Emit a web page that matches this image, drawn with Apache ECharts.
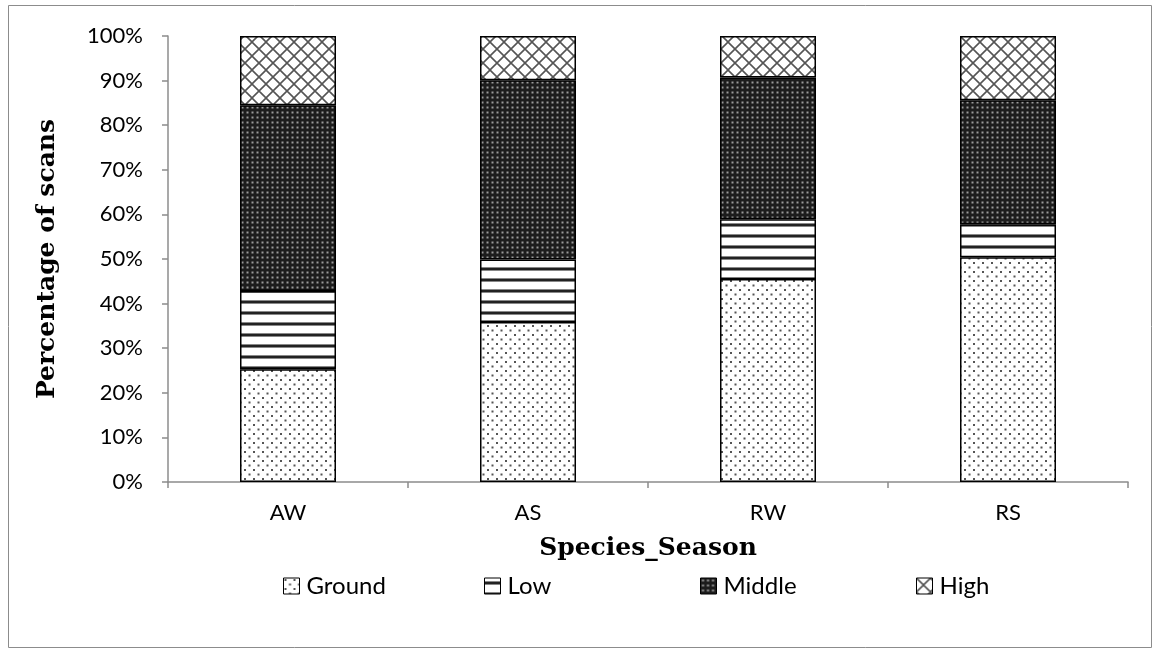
<!DOCTYPE html>
<html>
<head>
<meta charset="utf-8">
<script src="https://cdn.jsdelivr.net/npm/echarts@6/dist/echarts.min.js"></script>
<style>html,body{margin:0;padding:0;background:#fff}#c{width:1160px;height:649px}</style>
</head>
<body>
<div id="c"></div>
<script>
const categories = ['AW', 'AS', 'RW', 'RS'];
const ground = [25.3, 35.9, 45.5, 50.4];
const low = [17.5, 14.0, 13.4, 7.4];
const middle = [41.7, 40.2, 31.8, 27.8];
const high = [15.5, 9.9, 9.3, 14.4];
const seriesNames = ['Ground', 'Low', 'Middle', 'High'];

function makeTile(w, h, draw) {
  const c = document.createElement('canvas');
  c.width = w; c.height = h;
  const ctx = c.getContext('2d');
  draw(ctx, w, h);
  return { image: c, repeat: 'repeat' };
}
const groundPat = makeTile(9, 9, (ctx, w, h) => {
  ctx.fillStyle = '#fff'; ctx.fillRect(0, 0, w, h);
  ctx.fillStyle = '#555';
  ctx.fillRect(1, 1, 2, 2);
  ctx.fillRect(5.5, 5.5, 2, 2);
});
const lowPat = makeTile(10, 11, (ctx, w, h) => {
  ctx.fillStyle = '#fff'; ctx.fillRect(0, 0, w, h);
  ctx.fillStyle = '#222'; ctx.fillRect(0, 4, w, 2);
  ctx.fillStyle = '#888'; ctx.fillRect(0, 3, w, 1); ctx.fillRect(0, 6, w, 1);
});
const middlePat = makeTile(5, 5, (ctx, w, h) => {
  ctx.fillStyle = '#1c1c1c'; ctx.fillRect(0, 0, w, h);
  ctx.fillStyle = '#9a9a9a'; ctx.fillRect(1.5, 1.5, 2, 2);
});
const highPat = makeTile(14, 14, (ctx, w, h) => {
  ctx.fillStyle = '#fff'; ctx.fillRect(0, 0, w, h);
  ctx.strokeStyle = '#555'; ctx.lineWidth = 1.6;
  ctx.beginPath();
  ctx.moveTo(0, 0); ctx.lineTo(w, h);
  ctx.moveTo(w, 0); ctx.lineTo(0, h);
  ctx.stroke();
});
const patterns = [groundPat, lowPat, middlePat, highPat];
const values = [ground, low, middle, high];

const chart = echarts.init(document.getElementById('c'), null, { renderer: 'canvas' });
const legendLefts = [283, 484, 700, 916];
chart.setOption({
  animation: false,
  backgroundColor: '#fff',
  grid: { left: 168, right: 32, top: 36, bottom: 167 },
  graphic: [{
    type: 'rect', shape: { x: 8.5, y: 5.5, width: 1143, height: 642 },
    style: { fill: 'none', stroke: '#8c8c8c', lineWidth: 1 }, silent: true
  }],
  legend: seriesNames.map((n, i) => ({
    data: [n], left: legendLefts[i], top: 574, itemWidth: 16, itemHeight: 16, itemGap: 4,
    padding: 0,
    icon: 'rect',
    itemStyle: { borderColor: '#000', borderWidth: 1 },
    textStyle: { fontFamily: 'Lato', fontSize: 24, color: '#000', padding: [0, 0, 0, 2] }
  })),
  xAxis: {
    type: 'category', data: categories,
    axisLine: { lineStyle: { color: '#8c8c8c', width: 1.5 } },
    axisTick: { show: true, length: 6, lineStyle: { color: '#8c8c8c', width: 1.5 } },
    axisLabel: { fontFamily: 'Lato', fontSize: 22, color: '#000', margin: 20 },
    name: 'Species_Season', nameLocation: 'middle', nameGap: 54,
    nameTextStyle: { fontFamily: 'DejaVu Serif', fontWeight: 'bold', fontSize: 25, color: '#000' }
  },
  yAxis: {
    type: 'value', min: 0, max: 100, interval: 10,
    axisLine: { show: true, lineStyle: { color: '#8c8c8c', width: 1.5 } },
    axisTick: { show: true, length: 6, lineStyle: { color: '#8c8c8c', width: 1.5 } },
    splitLine: { show: false },
    axisLabel: { formatter: '{value}%', fontFamily: 'Lato', fontSize: 22, color: '#000', margin: 25 },
    name: 'Percentage of scans', nameLocation: 'middle', nameGap: 108,
    nameTextStyle: { fontFamily: 'DejaVu Serif', fontWeight: 'bold', fontSize: 25, color: '#000' }
  },
  series: seriesNames.map((n, i) => ({
    name: n, type: 'bar', stack: 'total', barWidth: '40%',
    data: values[i],
    itemStyle: { color: patterns[i], borderColor: '#000', borderWidth: 1.5 }
  }))
});
</script>
</body>
</html>
